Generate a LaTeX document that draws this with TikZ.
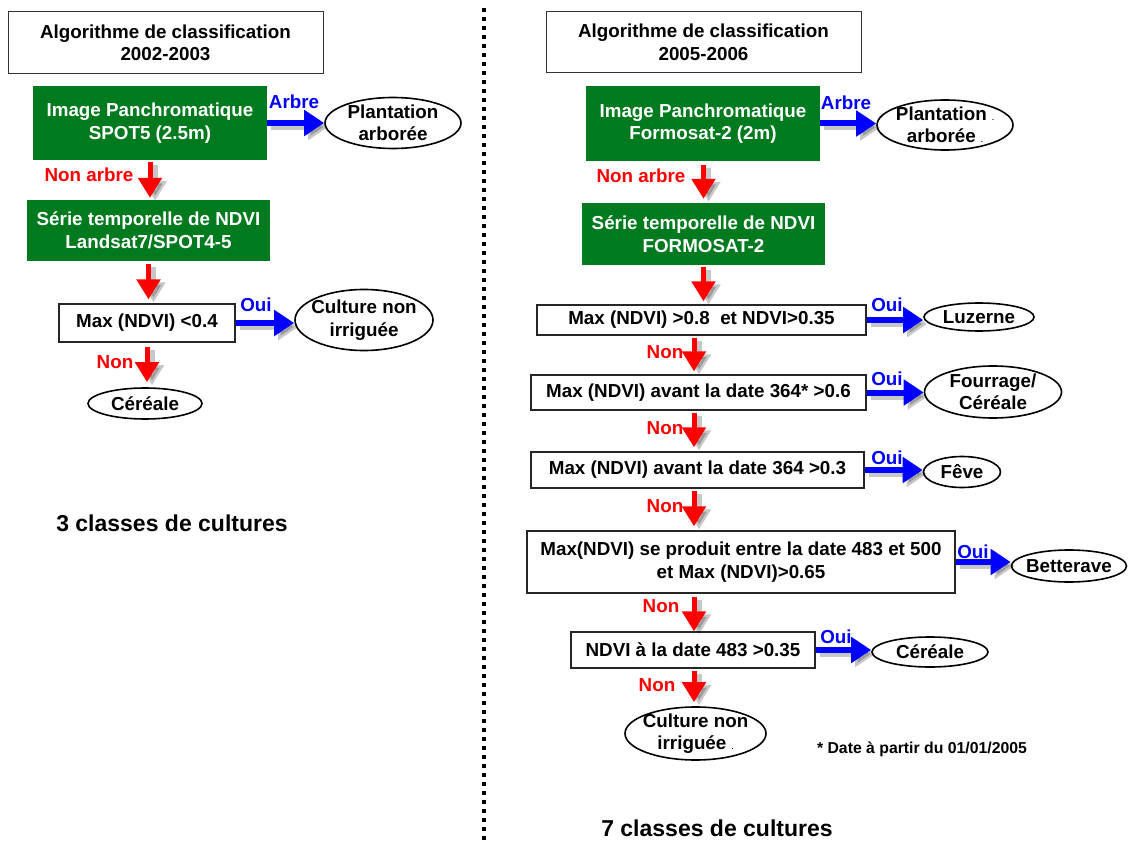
\documentclass[tikz,border=0pt]{standalone}
\usepackage{fontspec}
\setmainfont{Liberation Sans}
\usetikzlibrary{arrows.meta,shapes.geometric}
\definecolor{gboxc}{RGB}{0,122,30}
\begin{document}
\begin{tikzpicture}[x=1pt,y=-1pt,
  every node/.style={font=\bfseries\fontsize{18.8}{22.5}\selectfont},
  titlebox/.style={draw=black!80, line width=1pt, fill=white, align=center, inner sep=0pt},
  greenbox/.style={fill=gboxc, text=white, align=center, inner sep=0pt},
  testbox/.style={draw=black!85, line width=1.2pt, fill=white, align=center, inner sep=0pt},
  oval/.style={ellipse, draw=black, line width=1.6pt, inner sep=0pt},
  ovaltext/.style={align=center, inner sep=0pt},
  yeslabel/.style={text=blue, inner sep=0pt},
  nolabel/.style={text=red, inner sep=0pt},
  yesarrow/.style={draw=blue, line width=6pt, -{Triangle[width=25pt,length=20pt]},
    preaction={draw=black, opacity=0.22, line width=6pt, -{Triangle[width=25pt,length=20pt]},
      transform canvas={shift={(4pt,-4pt)}}}},
  noarrow/.style={draw=red, line width=5pt, -{Triangle[width=23pt,length=20pt]},
    preaction={draw=black, opacity=0.22, line width=5pt, -{Triangle[width=23pt,length=20pt]},
      transform canvas={shift={(5pt,-3pt)}}}},
  bigtext/.style={font=\bfseries\fontsize{23}{27}\selectfont, inner sep=0pt},
  notetext/.style={font=\bfseries\fontsize{15.8}{18}\selectfont, inner sep=0pt}
]
\useasboundingbox (0,0) rectangle (1128,845);
\fill[white] (0,0) rectangle (1128,845);

% separator
\coordinate (sepTop) at (484,8);
\coordinate (sepBot) at (484,845);
\draw[black, line width=4pt, dash pattern=on 4pt off 5pt] (sepTop) -- (sepBot);

% ---------------- left panel ----------------
\node[titlebox, minimum width=315pt, minimum height=62pt] (t1) at (165.5,43) {Algorithme de classification\\2002-2003};
\node[greenbox, minimum width=234pt, minimum height=74pt] (g1) at (150,123) {Image Panchromatique\\SPOT5 (2.5m)};
\node[greenbox, minimum width=243pt, minimum height=61pt] (g2) at (148.5,230.5) {Série temporelle de NDVI\\Landsat7/SPOT4-5};
\node[testbox, minimum width=176pt, minimum height=38pt] (q1) at (147,323) {Max (NDVI) <0.4};

\node[oval, minimum width=136pt, minimum height=51pt] (e1) at (393,123) {};
\node[ovaltext] (e1t) at (e1) {Plantation\\arborée};
\node[oval, minimum width=138pt, minimum height=61pt] (e2) at (364,320) {};
\node[ovaltext] (e2t) at (e2) {Culture non\\irriguée};
\node[oval, minimum width=114pt, minimum height=31pt] (e3) at (145,403.5) {};
\node[ovaltext] (e3t) at (e3) {Céréale};

\draw[yesarrow] (g1.east) -- (g1.east -| e1.west);
\draw[yesarrow] (q1.east) -- (q1.east -| e2.west);
\draw[noarrow, shorten <=2pt, shorten >=2pt] (g1.south) -- (g1.south |- g2.north);
\draw[noarrow, shorten <=3pt, shorten >=4pt] (g2.south) -- (g2.south |- q1.north);
\draw[noarrow, shorten <=4pt, shorten >=5pt] (q1.south) -- (q1.south |- e3.north);

\node[yeslabel] (l1) at (294,102) {Arbre};
\node[nolabel] (l2) at (89,175) {Non arbre};
\node[yeslabel] (l3) at (256,305) {Oui};
\node[nolabel] (l4) at (115,362) {Non};

\node[bigtext] (c1) at (172,523) {3 classes de cultures};

% ---------------- right panel ----------------
\node[titlebox, minimum width=315pt, minimum height=61pt] (t2) at (703.5,42.5) {Algorithme de classification\\2005-2006};
\node[greenbox, minimum width=234pt, minimum height=75pt] (G1) at (703,123.5) {Image Panchromatique\\Formosat-2 (2m)};
\node[greenbox, minimum width=243pt, minimum height=62pt] (G2) at (703.5,234) {Série temporelle de NDVI\\FORMOSAT-2};
\node[testbox, minimum width=329pt, minimum height=30pt] (Q1) at (701.5,320) {Max (NDVI) >0.8\ \ et NDVI>0.35};
\node[testbox, minimum width=335pt, minimum height=35pt] (Q2) at (698.5,392.5) {Max (NDVI) avant la date 364* >0.6};
\node[testbox, minimum width=333pt, minimum height=36pt] (Q3) at (697.5,470) {Max (NDVI) avant la date 364 >0.3};
\node[testbox, minimum width=428pt, minimum height=62pt] (Q4) at (741,562) {Max(NDVI) se produit entre la date 483 et 500\\et Max (NDVI)>0.65};
\node[testbox, minimum width=244pt, minimum height=36pt] (Q5) at (693,650) {NDVI à la date 483 >0.35};

\node[oval, minimum width=136pt, minimum height=50pt] (E1) at (945,125) {};
\node[ovaltext] (E1t) at (E1) {Plantation {\fontsize{7}{7}\selectfont .}\\arborée {\fontsize{7}{7}\selectfont .}};
\node[oval, minimum width=110pt, minimum height=28pt] (E2) at (979,317) {};
\node[ovaltext] (E2t) at (E2) {Luzerne};
\node[oval, minimum width=137pt, minimum height=52pt] (E3) at (993,392) {};
\node[ovaltext] (E3t) at (E3) {Fourrage/\\Céréale};
\node[oval, minimum width=77pt, minimum height=31pt] (E4) at (962,472) {};
\node[ovaltext] (E4t) at (E4) {Fêve};
\node[oval, minimum width=115pt, minimum height=32pt] (E5) at (1069,566) {};
\node[ovaltext] (E5t) at (E5) {Betterave};
\node[oval, minimum width=116pt, minimum height=30pt] (E6) at (930,652) {};
\node[ovaltext] (E6t) at (E6) {Céréale};
\node[oval, minimum width=141pt, minimum height=53pt] (E7) at (695.5,733.5) {};
\node[ovaltext] (E7t) at (E7) {Culture non\\irriguée {\fontsize{7}{7}\selectfont .}};

\draw[yesarrow] (G1.east) -- (G1.east -| E1.west);
\draw[yesarrow] (Q1.east) -- (Q1.east -| E2.west);
\draw[yesarrow] (Q2.east) -- (Q2.east -| E3.west);
\draw[yesarrow] (Q3.east) -- (Q3.east -| E4.west);
\draw[yesarrow] (Q4.east) -- (Q4.east -| E5.west);
\draw[yesarrow] (Q5.east) -- (Q5.east -| E6.west);

\coordinate (ax) at (694,0);
\draw[noarrow, shorten <=4pt, shorten >=4pt] (G2.north |- G1.south) -- (G2.north);
\draw[noarrow, shorten <=2pt, shorten >=3pt] (G2.south) -- (G2.south |- Q1.north);
\draw[noarrow, shorten <=2pt, shorten >=3pt] (Q1.south -| ax) -- (Q2.north -| ax);
\draw[noarrow, shorten <=2pt, shorten >=4pt] (Q2.south -| ax) -- (Q3.north -| ax);
\draw[noarrow, shorten <=2pt, shorten >=4pt] (Q3.south -| ax) -- (Q4.north -| ax);
\draw[noarrow, shorten <=3pt, shorten >=0pt] (Q4.south -| ax) -- (Q5.north -| ax);
\draw[noarrow, shorten <=2pt, shorten >=4pt] (Q5.south -| ax) -- (E7.north -| ax);

\node[yeslabel] (L1) at (846,103) {Arbre};
\node[nolabel] (L2) at (641,176) {Non arbre};
\node[yeslabel] (L3) at (887,305) {Oui};
\node[yeslabel] (L4) at (887,379) {Oui};
\node[yeslabel] (L5) at (887,458) {Oui};
\node[yeslabel] (L6) at (973,552) {Oui};
\node[yeslabel] (L7) at (836,637) {Oui};
\node[nolabel] (L8) at (665,352) {Non};
\node[nolabel] (L9) at (665,428) {Non};
\node[nolabel] (L10) at (665,506) {Non};
\node[nolabel] (L11) at (661,606) {Non};
\node[nolabel] (L12) at (657,685) {Non};

\node[notetext] (N1) at (922,749) {* Date à partir du 01/01/2005};
\node[bigtext] (C2) at (717,828) {7 classes de cultures};
\end{tikzpicture}
\end{document}
